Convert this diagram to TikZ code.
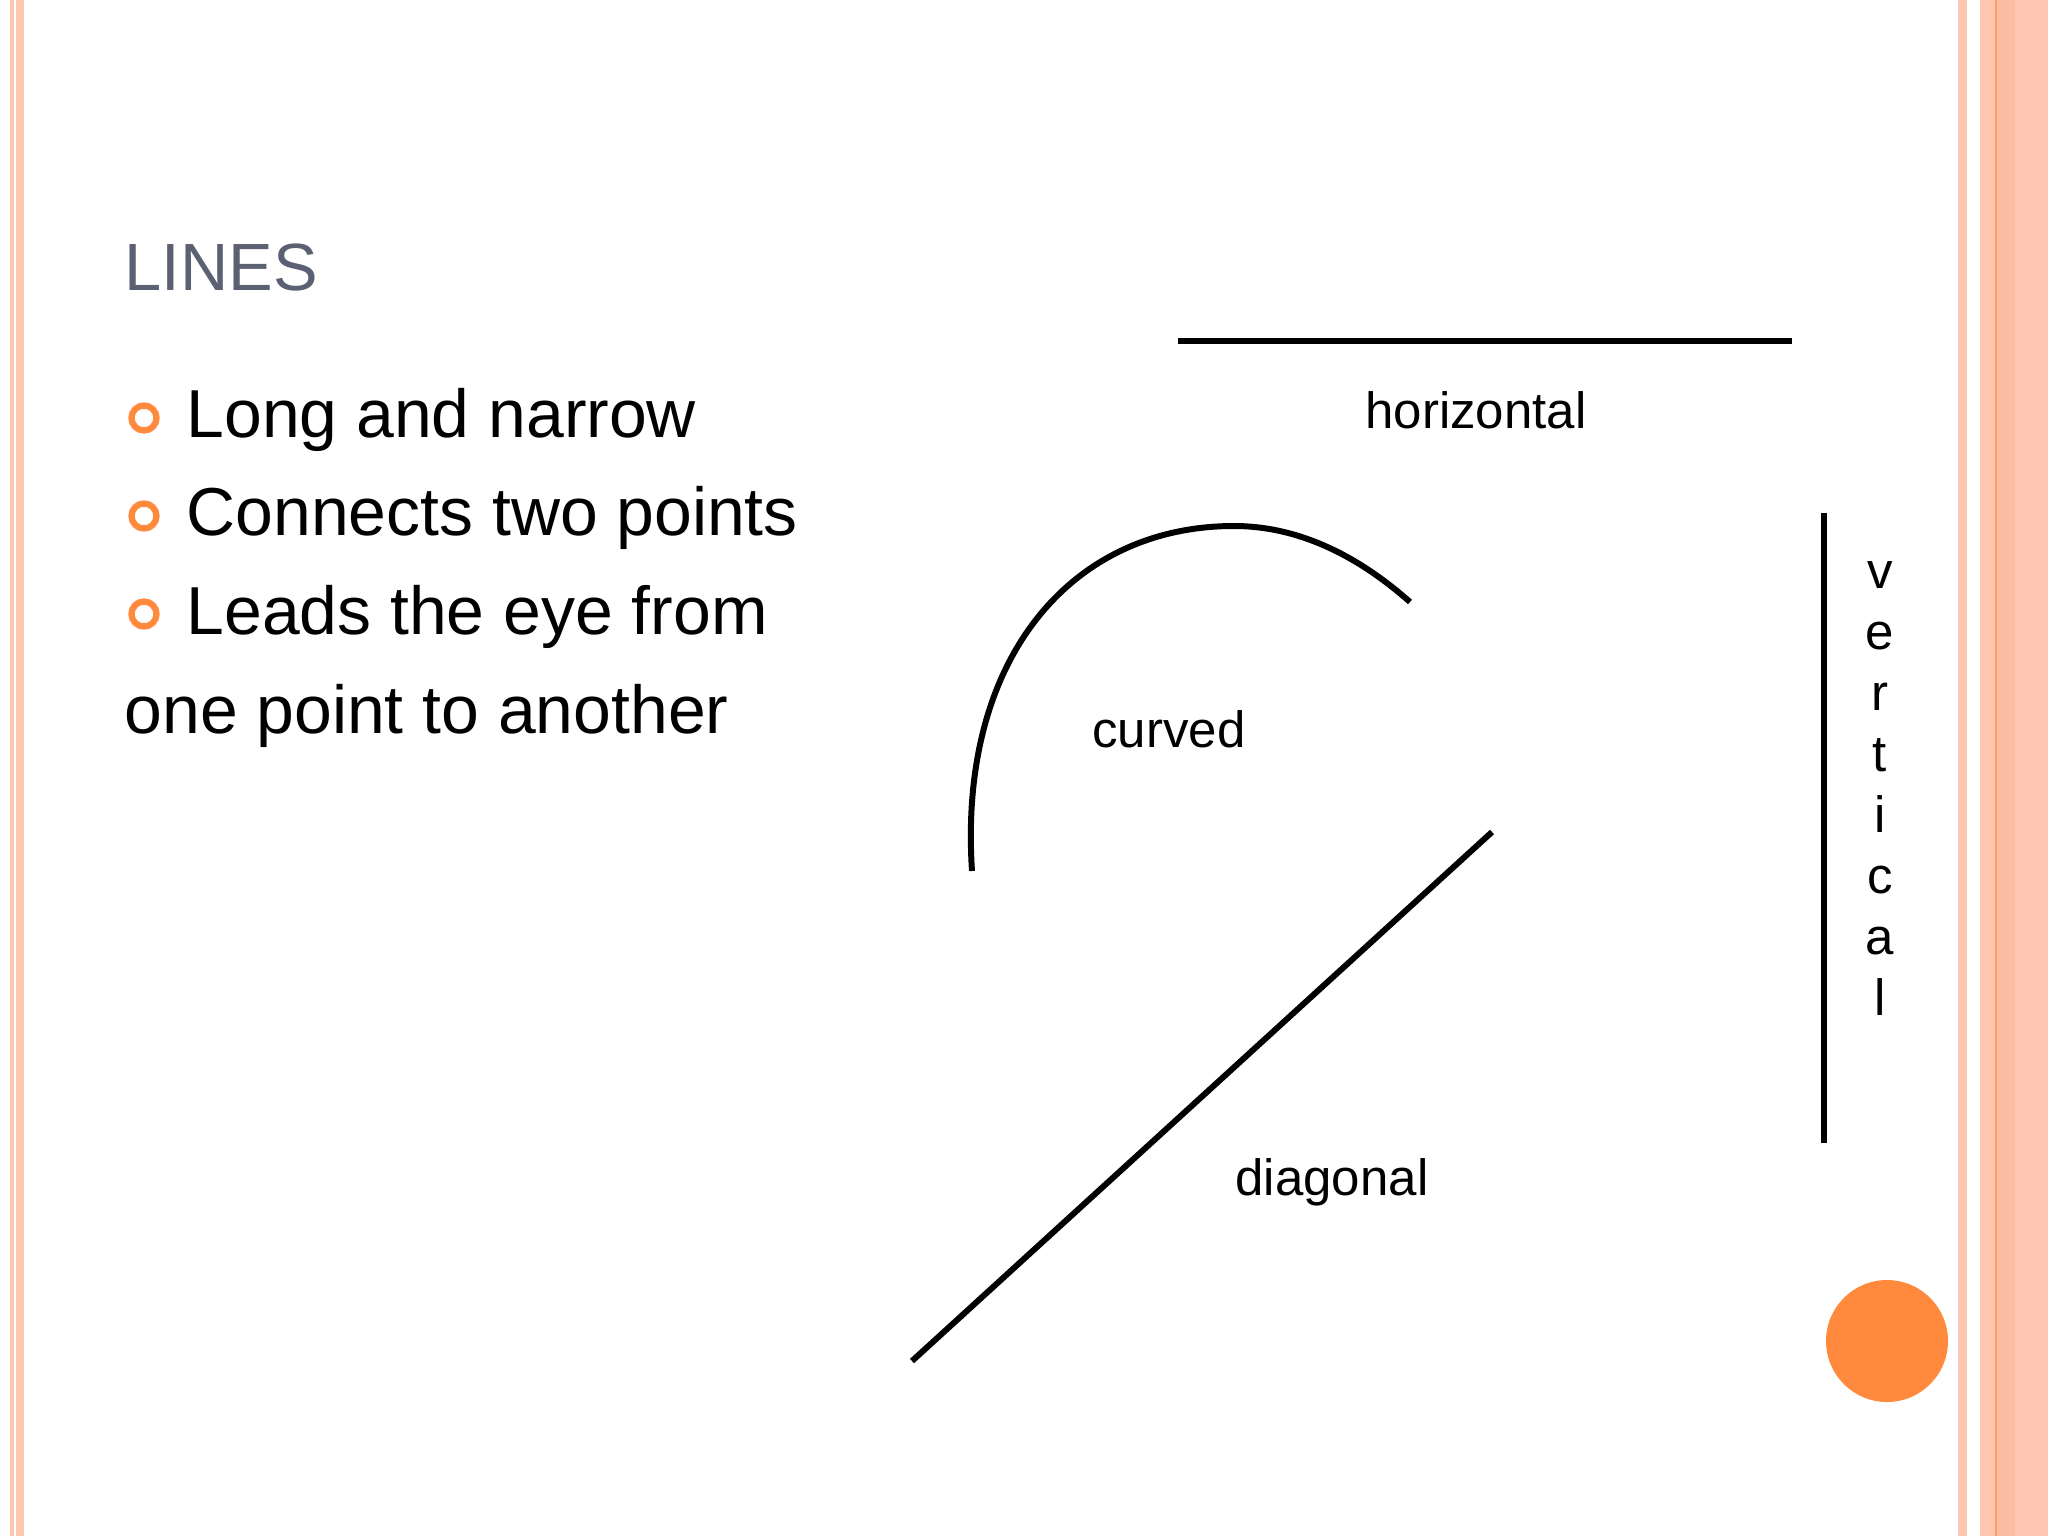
\documentclass[tikz,border=0pt]{standalone}
\usepackage{fontspec}
\setmainfont{Liberation Sans}
\definecolor{pk}{HTML}{FCC6B0}
\definecolor{pk2}{HTML}{FBBEA5}
\definecolor{og}{HTML}{FF8A3D}
\definecolor{tg}{HTML}{5B6172}
\begin{document}
\begin{tikzpicture}[x=0.01cm,y=-0.01cm,
  body/.style={anchor=base west,font=\fontsize{19.3pt}{24pt}\selectfont,inner sep=0},
  lbl/.style={anchor=base,font=\fontsize{14.5pt}{16pt}\selectfont,inner sep=0},
  ln/.style={line width=1.7pt},
  bul/.style={draw=og,line width=1.8pt,circle,minimum size=0.25cm,inner sep=0}]
\fill[white] (0,0) rectangle (2048,1536);
\fill[pk] (10,0) rectangle (14,1536);
\fill[pk] (16,0) rectangle (24,1536);
\fill[pk] (1958,0) rectangle (1967,1536);
\fill[pk] (1980,0) rectangle (2048,1536);
\fill[pk2] (1996,0) rectangle (2015,1536);
\fill[og!80] (1995,0) rectangle (1997,1536);
\node[anchor=base west,inner sep=0,text=tg,font=\fontsize{19pt}{24pt}\selectfont] (title) at (124,290) {LINES};
\node[bul] (b1) at (144,418) {};
\node[bul] (b2) at (144,516) {};
\node[bul] (b3) at (144,614) {};
\node[body] (t1) at (186,437) {Long and narrow};
\node[body] (t2) at (186,535) {Connects two points};
\node[body] (t3) at (186,634) {Leads the eye from};
\node[body] (t4) at (124,733) {one point to another};
\coordinate (h1) at (1178,341); \coordinate (h2) at (1792,341);
\draw[ln] (h1) -- (h2);
\node[lbl] (hl) at (1476,428) {horizontal};
\coordinate (v1) at (1824,513); \coordinate (v2) at (1824,1143);
\draw[ln] (v1) -- (v2);
\foreach \c [count=\i] in {v,e,r,t,i,c,a,l}
  \node[lbl] (vl\i) at (1880,{588+61*(\i-1)}) {\c};
\coordinate (c1) at (972,871); \coordinate (c2) at (1234,526); \coordinate (c3) at (1410,602);
\draw[ln] (c1) .. controls (958,660) and (1070,526) .. (c2) .. controls (1305,526) and (1365,562) .. (c3);
\node[lbl] (cl) at (1169,747) {curved};
\coordinate (d1) at (912,1361); \coordinate (d2) at (1492,832);
\draw[ln] (d1) -- (d2);
\node[lbl] (dl) at (1332,1195) {diagonal};
\fill[og] (1887,1341) circle (61);
\end{tikzpicture}
\end{document}
